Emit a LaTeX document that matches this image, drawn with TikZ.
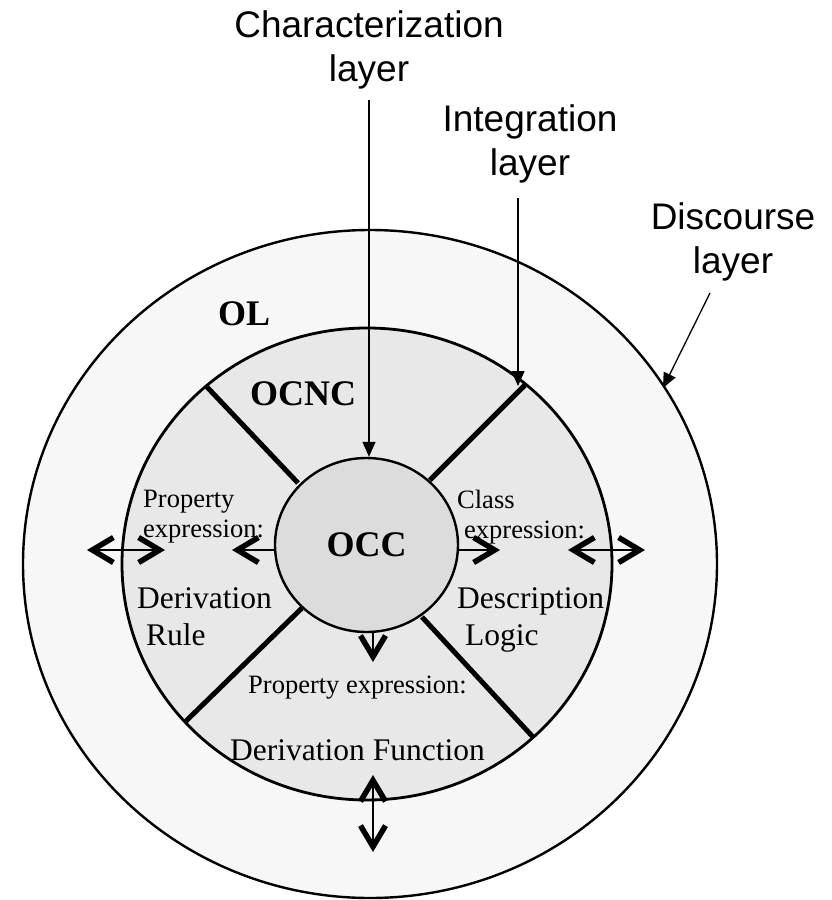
\documentclass[tikz,border=0pt]{standalone}
\usepackage{fontspec}
\setmainfont{Liberation Serif}
\newfontfamily\sansfam{Liberation Sans}
\usetikzlibrary{arrows.meta,shapes.geometric}

\definecolor{ringout}{RGB}{247,247,247}
\definecolor{ringmid}{RGB}{232,232,232}
\definecolor{corefill}{RGB}{220,220,220}

\begin{document}
\begin{tikzpicture}[x=1pt,y=-1pt,
  layerlabel/.style={font=\sansfam\fontsize{37}{44}\selectfont, align=center, inner sep=0pt},
  bigbold/.style={font=\fontsize{36}{40}\selectfont\bfseries, inner sep=0pt},
  smalltext/.style={font=\fontsize{26.5}{30}\selectfont, align=left, inner sep=0pt},
  midtext/.style={font=\fontsize{31.5}{37}\selectfont, align=left, inner sep=0pt},
  spoke/.style={line width=5pt},
  pointer/.style={line width=1.3pt, -{Triangle[length=15pt,width=13pt]}},
  flow/.style={line width=1.6pt, >={Straight Barb[length=21pt,width=25pt,line width'=5.5pt 0]}}
]
\useasboundingbox (0,0) rectangle (831,900);
\fill[white] (0,0) rectangle (831,900);

% discourse ring and characterization/integration area
\filldraw[fill=ringout, line width=2.4pt] (370,564) ellipse [x radius=347, y radius=334];
\filldraw[fill=ringmid, line width=2.8pt] (367,564) ellipse [x radius=245, y radius=236];

% spokes separating the four sectors
\draw[spoke] (298,483) -- (207,387);
\draw[spoke] (430,480) -- (525,385);
\draw[spoke] (302,608) -- (185,722);
\draw[spoke] (422,617) -- (533,737);

% core
\node[ellipse, draw, line width=2.4pt, fill=corefill, minimum width=183pt, minimum height=174pt,
      inner sep=0pt, font=\fontsize{36}{40}\selectfont\bfseries] (occ) at (366.5,545) {OCC};

% layer names
\node[layerlabel, anchor=north] (charlabel) at (369,10) {Characterization\\layer};
\node[layerlabel, anchor=north] (intlabel) at (530,104) {Integration\\layer};
\node[layerlabel, anchor=north] (dislabel) at (733,202) {Discourse\\layer};

% ring labels
\node[bigbold, anchor=base west] (ol) at (218,325) {OL};
\node[bigbold, anchor=base west] (ocnc) at (250,405) {OCNC};

% sector texts
\node[smalltext, anchor=north west] (propleft) at (143,490) {Property\\expression:};
\node[smalltext, anchor=north west] (classright) at (457,490) {Class\\\hspace{7pt}expression:};
\node[midtext, anchor=north west] (derrule) at (137,587) {Derivation\\\hspace{9pt}Rule};
\node[midtext, anchor=north west] (desclogic) at (457,587) {Description\\\hspace{8pt}Logic};
\node[smalltext, anchor=base west] (propbottom) at (248,693) {Property expression:};
\node[midtext, anchor=base west] (derfunc) at (230,760) {Derivation Function};

% pointer lines from the layer names
\coordinate (charstart) at (369,100);
\coordinate (intstart) at (518,198);
\coordinate (inttip) at (518,386);
\coordinate (disstart) at (710,293);
\coordinate (distip) at (663,388);
\draw[pointer] (charstart) -- (charstart |- occ.north);
\draw[pointer] (intstart) -- (inttip);
\draw[pointer] (disstart) -- (distip);

% open arrows
\coordinate (occleft) at (275.5,550);
\coordinate (occright) at (457.5,550);
\coordinate (occbottom) at (373,631.5);
\coordinate (lefttip) at (232,550);
\coordinate (righttip) at (500,550);
\coordinate (downtip) at (373,662);
\coordinate (outlA) at (87,550);
\coordinate (outlB) at (165,550);
\coordinate (outrA) at (568,550);
\coordinate (outrB) at (645,550);
\coordinate (outbA) at (373,775);
\coordinate (outbB) at (373,852);

\draw[flow,->] (occleft) -- (lefttip);
\draw[flow,->] (occright) -- (righttip);
\draw[flow,->] (occbottom) -- (downtip);
\draw[flow,<->] (outlA) -- (outlB);
\draw[flow,<->] (outrA) -- (outrB);
\draw[flow,<->] (outbA) -- (outbB);
\end{tikzpicture}
\end{document}
